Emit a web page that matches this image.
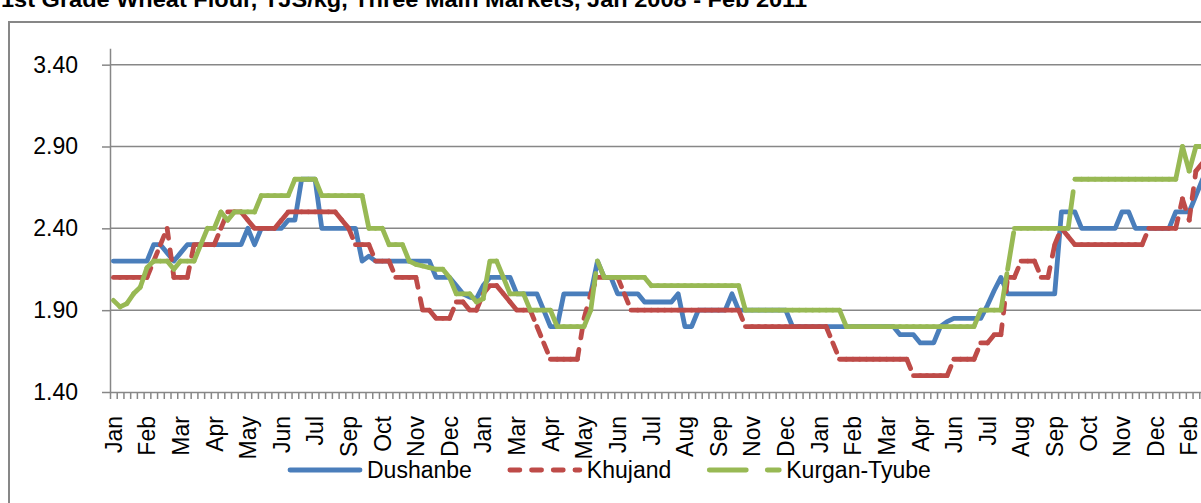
<!DOCTYPE html>
<html>
<head>
<meta charset="utf-8">
<script src="https://cdn.jsdelivr.net/npm/d3@7"></script>
<style>
	html, body { margin: 0; padding: 0; background: #fff; overflow: hidden; }
	svg { display: block; font-family: "Liberation Sans", Arial, sans-serif; }
</style>
</head>
<body>
<div id="chart"></div>
<script>
// weekly prices, TJS/kg, Jan 2008 - Feb 2011
const dushanbe = [
	2.2, 2.2, 2.2, 2.2, 2.2, 2.2, 2.3, 2.3, 2.25, 2.2,
	2.25, 2.3, 2.3, 2.3, 2.3, 2.3, 2.3, 2.3, 2.3, 2.3,
	2.4, 2.3, 2.4, 2.4, 2.4, 2.4, 2.45, 2.45, 2.7, 2.7,
	2.7, 2.4, 2.4, 2.4, 2.4, 2.4, 2.4, 2.2, 2.23, 2.2,
	2.2, 2.2, 2.2, 2.2, 2.2, 2.2, 2.2, 2.2, 2.1, 2.1,
	2.1, 2.05, 2.0, 1.98, 1.97, 2.05, 2.1, 2.1, 2.1, 2.1,
	2.0, 2.0, 2.0, 2.0, 1.9, 1.8, 1.8, 2.0, 2.0, 2.0,
	2.0, 2.0, 2.2, 2.1, 2.1, 2.0, 2.0, 2.0, 2.0, 1.95,
	1.95, 1.95, 1.95, 1.95, 2.0, 1.8, 1.8, 1.9, 1.9, 1.9,
	1.9, 1.9, 2.0, 1.9, 1.9, 1.9, 1.9, 1.9, 1.9, 1.9,
	1.9, 1.8, 1.8, 1.8, 1.8, 1.8, 1.8, 1.8, 1.8, 1.8,
	1.8, 1.8, 1.8, 1.8, 1.8, 1.8, 1.8, 1.75, 1.75, 1.75,
	1.7, 1.7, 1.7, 1.8, 1.83, 1.85, 1.85, 1.85, 1.85, 1.85,
	1.93, 2.02, 2.1, 2.0, 2.0, 2.0, 2.0, 2.0, 2.0, 2.0,
	2.0, 2.5, 2.5, 2.5, 2.4, 2.4, 2.4, 2.4, 2.4, 2.4,
	2.5, 2.5, 2.4, 2.4, 2.4, 2.4, 2.4, 2.4, 2.5, 2.5,
	2.5, 2.6, 2.7
];

const khujand = [
	2.1, 2.1, 2.1, 2.1, 2.1, 2.1, 2.2, 2.3, 2.4, 2.1,
	2.1, 2.1, 2.3, 2.3, 2.3, 2.3, 2.4, 2.5, 2.5, 2.5,
	2.45, 2.4, 2.4, 2.4, 2.4, 2.45, 2.5, 2.5, 2.5, 2.5,
	2.5, 2.5, 2.5, 2.5, 2.45, 2.4, 2.3, 2.3, 2.3, 2.2,
	2.2, 2.2, 2.1, 2.1, 2.1, 2.1, 1.9, 1.9, 1.85, 1.85,
	1.85, 1.95, 1.95, 1.9, 1.9, 2.0, 2.05, 2.05, 2.0, 1.95,
	1.9, 1.9, 1.9, 1.8, 1.7, 1.6, 1.6, 1.6, 1.6, 1.6,
	1.85, 2.0, 2.1, 2.1, 2.1, 2.1, 2.0, 1.9, 1.9, 1.9,
	1.9, 1.9, 1.9, 1.9, 1.9, 1.9, 1.9, 1.9, 1.9, 1.9,
	1.9, 1.9, 1.9, 1.9, 1.8, 1.8, 1.8, 1.8, 1.8, 1.8,
	1.8, 1.8, 1.8, 1.8, 1.8, 1.8, 1.8, 1.7, 1.6, 1.6,
	1.6, 1.6, 1.6, 1.6, 1.6, 1.6, 1.6, 1.6, 1.6, 1.5,
	1.5, 1.5, 1.5, 1.5, 1.5, 1.6, 1.6, 1.6, 1.6, 1.7,
	1.7, 1.75, 1.75, 2.1, 2.1, 2.2, 2.2, 2.2, 2.1, 2.1,
	2.3, 2.4, 2.35, 2.3, 2.3, 2.3, 2.3, 2.3, 2.3, 2.3,
	2.3, 2.3, 2.3, 2.3, 2.4, 2.4, 2.4, 2.4, 2.4, 2.58,
	2.45, 2.75, 2.8
];

const kurganTyube = [
	1.96, 1.92, 1.94, 2.0, 2.04, 2.16, 2.2, 2.2, 2.2, 2.15,
	2.2, 2.2, 2.2, 2.3, 2.4, 2.4, 2.5, 2.45, 2.5, 2.5,
	2.5, 2.5, 2.6, 2.6, 2.6, 2.6, 2.6, 2.7, 2.7, 2.7,
	2.7, 2.6, 2.6, 2.6, 2.6, 2.6, 2.6, 2.6, 2.4, 2.4,
	2.4, 2.3, 2.3, 2.3, 2.2, 2.18, 2.17, 2.16, 2.15, 2.15,
	2.1, 2.0, 2.0, 2.0, 1.95, 1.97, 2.2, 2.2, 2.1, 2.0,
	2.0, 2.0, 1.9, 1.9, 1.9, 1.9, 1.8, 1.8, 1.8, 1.8,
	1.8, 1.9, 2.2, 2.1, 2.1, 2.1, 2.1, 2.1, 2.1, 2.1,
	2.05, 2.05, 2.05, 2.05, 2.05, 2.05, 2.05, 2.05, 2.05, 2.05,
	2.05, 2.05, 2.05, 2.05, 1.9, 1.9, 1.9, 1.9, 1.9, 1.9,
	1.9, 1.9, 1.9, 1.9, 1.9, 1.9, 1.9, 1.9, 1.9, 1.8,
	1.8, 1.8, 1.8, 1.8, 1.8, 1.8, 1.8, 1.8, 1.8, 1.8,
	1.8, 1.8, 1.8, 1.8, 1.8, 1.8, 1.8, 1.8, 1.8, 1.9,
	1.9, 1.9, 1.9, 2.15, 2.4, 2.4, 2.4, 2.4, 2.4, 2.4,
	2.4, 2.4, 2.4, 2.7, 2.7, 2.7, 2.7, 2.7, 2.7, 2.7,
	2.7, 2.7, 2.7, 2.7, 2.7, 2.7, 2.7, 2.7, 2.7, 2.9,
	2.75, 2.9, 2.9
];

// one month label shown for every 5th week
const tickLabels = [
	"Jan", "Feb", "Mar", "Apr", "May", "Jun", "Jul", "Sep", "Oct", "Nov", "Dec",
	"Jan", "Mar", "Apr", "May", "Jun", "Jul", "Aug", "Sep", "Nov", "Dec",
	"Jan", "Feb", "Mar", "Apr", "Jun", "Jul", "Aug", "Sep", "Oct", "Nov", "Dec", "Feb"
];
const LABEL_STEP = 5;

const yTicks = [1.4, 1.9, 2.4, 2.9, 3.4];

const seriesNames = ["Dushanbe", "Khujand", "Kurgan-Tyube"];

const title = "1st Grade Wheat Flour, TJS/kg, Three Main Markets, Jan 2008 - Feb 2011";

// -------------------------------------------------------------------
const width = 1201;
const height = 503;
const N = dushanbe.length;

const margins = { left: 110, right: 1206, top: 48.3, bottom: 392 };
const GRID = "#878787";
const FONT = 23;

const series = [
	{ name: seriesNames[0], values: dushanbe, color: "#4a7ebb", dash: null },
	{ name: seriesNames[1], values: khujand, color: "#be4b48", dash: "10 11.7" },
	{ name: seriesNames[2], values: kurganTyube, color: "#98b954", dash: "37 21" },
];

const svg = d3
	.select("#chart")
	.append("svg")
	.attr("width", width)
	.attr("height", height)
	.attr("viewBox", `0 0 ${width} ${height}`);

// chart frame (runs off the right and bottom edge of the picture)
svg
	.append("rect")
	.attr("x", 9)
	.attr("y", 22)
	.attr("width", 1300)
	.attr("height", 600)
	.attr("fill", "none")
	.attr("stroke", GRID)
	.attr("stroke-width", 2);

// title, cut off at the top as in the source picture
svg
	.append("text")
	.attr("x", 1)
	.attr("y", 7)
	.attr("font-size", 22)
	.attr("font-weight", "bold")
	.attr("textLength", 806)
	.attr("lengthAdjust", "spacingAndGlyphs")
	.text(title);

// scales
const x = d3
	.scaleBand()
	.domain(d3.range(N))
	.range([margins.left, margins.right]);
const xEdge = d3
	.scaleLinear()
	.domain([0, N])
	.range([margins.left, margins.right]);
const y = d3
	.scaleLinear()
	.domain([1.4, 3.5])
	.range([margins.bottom, margins.top]);

const cx = (i) => x(i) + x.bandwidth() / 2;

// gridlines
svg
	.append("g")
	.attr("class", "grid")
	.selectAll("line")
	.data(yTicks.slice(1))
	.join("line")
	.attr("x1", margins.left)
	.attr("x2", margins.right)
	.attr("y1", (d) => y(d))
	.attr("y2", (d) => y(d))
	.attr("stroke", GRID)
	.attr("stroke-width", 1.5);

// Y axis
const yAxis = svg
	.append("g")
	.attr("transform", `translate(${margins.left},0)`)
	.call(
		d3
			.axisLeft(y)
			.tickValues(yTicks)
			.tickFormat(d3.format(".2f"))
			.tickSize(8)
			.tickSizeOuter(0)
			.tickPadding(24),
	);
yAxis.selectAll("line, path").attr("stroke", GRID).attr("stroke-width", 1.5);
yAxis
	.selectAll("text")
	.attr("font-size", FONT)
	.attr("font-family", "Liberation Sans, Arial, sans-serif")
	.attr("fill", "#000");

// X axis: small tick marks between every week
const xTicks = svg
	.append("g")
	.attr("transform", `translate(0,${margins.bottom})`)
	.call(
		d3
			.axisBottom(xEdge)
			.tickValues(d3.range(N + 1))
			.tickFormat("")
			.tickSize(7)
			.tickSizeOuter(0),
	);
xTicks.selectAll("line, path").attr("stroke", GRID).attr("stroke-width", 1.5);

// X axis: month labels
const xLabels = svg
	.append("g")
	.attr("transform", `translate(0,${margins.bottom})`)
	.call(
		d3
			.axisBottom(x)
			.tickValues(d3.range(0, N, LABEL_STEP))
			.tickFormat((i) => tickLabels[i / LABEL_STEP])
			.tickSize(0),
	);
xLabels.select(".domain").remove();
xLabels
	.selectAll(".tick text")
	.attr("font-size", FONT)
	.attr("font-family", "Liberation Sans, Arial, sans-serif")
	.attr("fill", "#000")
	.attr("text-anchor", "end")
	.attr("transform", "rotate(-90)")
	.attr("x", -24)
	.attr("y", 0)
	.attr("dy", "0.36em");

// series lines; dashes restart on every segment, like the source chart
const line = d3
	.line()
	.x((d) => cx(d[0]))
	.y((d) => y(d[1]));

const lines = svg.append("g").attr("class", "lines");

series.forEach((s) => {
	const pts = s.values.map((v, i) => [i, v]);
	const g = lines.append("g").attr("class", "series");

	if (!s.dash) {
		g.append("path")
			.datum(pts)
			.attr("d", line)
			.attr("fill", "none")
			.attr("stroke", s.color)
			.attr("stroke-width", 4.8)
			.attr("stroke-linejoin", "round")
			.attr("stroke-linecap", "round");
		return;
	}

	g.selectAll("path")
		.data(d3.pairs(pts))
		.join("path")
		.attr("d", (seg) => line(seg))
		.attr("fill", "none")
		.attr("stroke", s.color)
		.attr("stroke-width", 4.8)
		.attr("stroke-linecap", "round")
		.attr("stroke-dasharray", s.dash);
});

// legend
const legend = svg.append("g").attr("class", "legend");
const LEG_Y = 470;
let legX = 290;

series.forEach((s) => {
	legend
		.append("line")
		.attr("x1", legX)
		.attr("x2", legX + 70)
		.attr("y1", LEG_Y)
		.attr("y2", LEG_Y)
		.attr("stroke", s.color)
		.attr("stroke-width", 4.8)
		.attr("stroke-linecap", "round")
		.attr("stroke-dasharray", s.dash);

	const t = legend
		.append("text")
		.attr("x", legX + 77)
		.attr("y", LEG_Y)
		.attr("dy", "0.36em")
		.attr("font-size", FONT)
		.text(s.name);

	legX += 77 + t.node().getComputedTextLength() + 38;
});
</script>
</body>
</html>
